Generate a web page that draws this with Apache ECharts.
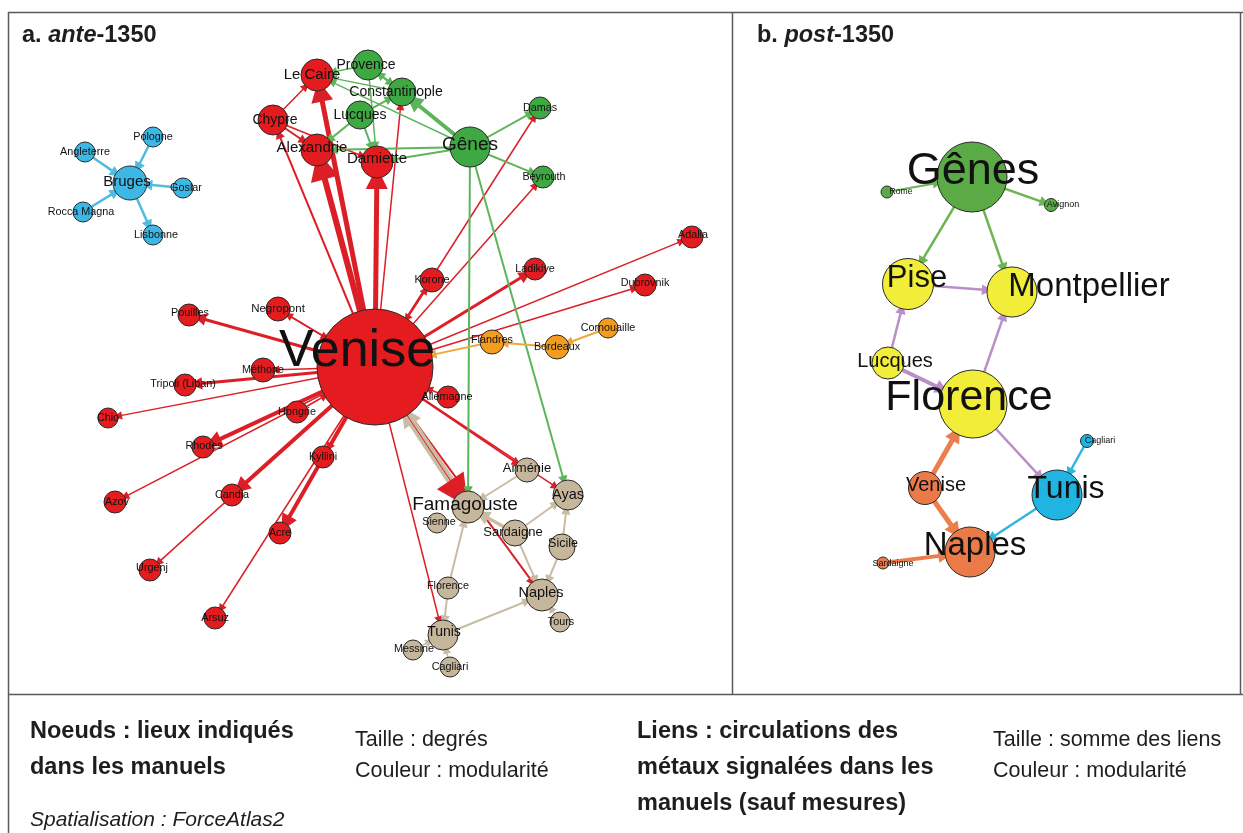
<!DOCTYPE html>
<html><head><meta charset="utf-8">
<script src="https://cdn.jsdelivr.net/npm/echarts@6/dist/echarts.min.js"></script>
<style>html,body{margin:0;padding:0;background:#fff}#c{width:1243px;height:833px}</style>
</head><body><div id="c"></div>
<script>
// ---------- Panel a (ante-1350) ----------
const nodesA = ['Venise','Le Caire','Chypre','Alexandrie','Damiette','Korone','Ladikiye','Adalia','Dubrovnik','Negropont','Pouilles','Méthone','Tripoli (Liban)','Allemagne','Hongrie','Chio','Rhodes','Kyllini','Azov','Candia','Acre','Urgenj','Arsuz',
  'Provence','Constantinople','Lucques','Gênes','Damas','Beyrouth',
  'Bruges','Pologne','Angleterre','Goslar','Rocca Magna','Lisbonne',
  'Flandres','Bordeaux','Cornouaille',
  'Famagouste','Arménie','Ayas','Sienne','Sardaigne','Sicile','Florence','Naples','Tours','Tunis','Messine','Cagliari'];
const xA = [375,317,273,317,377,432,535,692,645,278,189,263,185,448,297,108,203,323,115,232,280,150,215,
  368,402,360,470,540,543,
  130,153,85,183,83,153,
  492,557,608,
  468,527,568,437,515,562,448,542,560,443,413,450];
const yA = [367,75,120,150,162,280,269,237,285,309,315,370,385,397,412,418,447,457,502,495,533,570,618,
  65,92,115,147,108,177,
  183,137,152,188,212,235,
  342,347,328,
  507,470,495,523,533,547,588,595,622,635,650,667];
const degreeA = [116,32,30,32,32,24,22,22,22,24,22,24,22,22,22,20,22,22,22,22,22,22,22,
  30,28,28,40,22,22,
  34,20,20,20,20,20,
  24,24,20,
  32,24,30,20,26,26,22,32,20,30,20,20];
const groupA = ['R','R','R','R','R','R','R','R','R','R','R','R','R','R','R','R','R','R','R','R','R','R','R',
  'G','G','G','G','G','G',
  'B','B','B','B','B','B',
  'O','O','O',
  'T','T','T','T','T','T','T','T','T','T','T','T'];
const linksA = [
  ['Venise','Le Caire',5],['Venise','Alexandrie',6],['Venise','Damiette',5],['Venise','Chypre',2],
  ['Venise','Constantinople',1.5],['Venise','Damas',1.5],['Venise','Beyrouth',1.5],['Venise','Adalia',1.5],
  ['Venise','Dubrovnik',1.5],['Venise','Ladikiye',3],['Venise','Korone',1.5],['Korone','Venise',1.5],
  ['Venise','Negropont',1.5],['Negropont','Venise',1.5],['Venise','Pouilles',3],['Venise','Méthone',1.5],
  ['Venise','Tripoli (Liban)',3],['Venise','Chio',1.5],['Hongrie','Venise',1.5],['Venise','Rhodes',4],
  ['Venise','Azov',1.5],['Venise','Candia',4],['Venise','Urgenj',1.5],['Venise','Kyllini',2],
  ['Venise','Acre',4],['Venise','Arsuz',1.5],['Allemagne','Venise',1.5],['Venise','Arménie',2],
  ['Venise','Ayas',1.5],['Venise','Naples',2],['Venise','Tunis',1.5],
  ['Chypre','Le Caire',1.5],['Chypre','Alexandrie',2],['Chypre','Damiette',1.5],
  ['Famagouste','Venise',8],['Venise','Famagouste',1],
  ['Gênes','Constantinople',4],['Gênes','Provence',2],['Gênes','Le Caire',1.5],['Gênes','Alexandrie',2],
  ['Gênes','Damiette',2],['Gênes','Damas',2],['Gênes','Beyrouth',2],['Gênes','Famagouste',2],['Gênes','Ayas',2],
  ['Provence','Le Caire',1.5],['Provence','Constantinople',2],['Provence','Damiette',1.5],
  ['Lucques','Alexandrie',2],['Lucques','Damiette',2],['Lucques','Constantinople',2],['Constantinople','Le Caire',1.5],
  ['Angleterre','Bruges',2.5],['Pologne','Bruges',2.5],['Goslar','Bruges',2.5],['Rocca Magna','Bruges',2.5],['Bruges','Lisbonne',2.5],
  ['Flandres','Venise',2],['Bordeaux','Flandres',2],['Cornouaille','Bordeaux',2],
  ['Arménie','Famagouste',2],['Sardaigne','Famagouste',3.5],['Sardaigne','Ayas',2],['Sicile','Ayas',2],
  ['Sicile','Naples',2],['Sardaigne','Naples',2],['Florence','Famagouste',2],['Florence','Tunis',2],
  ['Tunis','Naples',2],['Tours','Naples',1.5],['Messine','Tunis',1.5],['Cagliari','Tunis',1.5]
];

// ---------- Panel b (post-1350) ----------
const nodesB = ['Gênes','Rome','Avignon','Pise','Montpellier','Lucques','Florence','Cagliari','Tunis','Venise','Naples','Sardaigne'];
const xB = [972,887,1051,908,1012,888,973,1087,1057,925,970,883];
const yB = [177,192,205,284,292,363,404,441,495,488,552,563];
const degreeB = [70,12,13,51,50,32,68,13,50,33,50,12];
const groupB = ['G','G','G','Y','Y','Y','Y','Bl','Bl','O','O','O'];
const linksB = [
  ['Gênes','Pise',2.5],['Gênes','Montpellier',2.5],['Gênes','Avignon',2.5],['Rome','Gênes',2],
  ['Pise','Montpellier',2.5],['Lucques','Pise',2.5],['Florence','Montpellier',2.5],['Lucques','Florence',4],
  ['Florence','Tunis',2.5],['Venise','Florence',5],['Venise','Naples',5],['Sardaigne','Naples',4],
  ['Cagliari','Tunis',2.5],['Tunis','Naples',2.5]
];

// ---------- styles ----------
const FONT = '"Liberation Sans", Arial, Helvetica, sans-serif';
const colA = {R:'#e41b1f', G:'#3ea843', B:'#3db8e4', O:'#f39c1e', T:'#c6b69b'};
const edgeColA = {R:'#dc1f27', G:'#5cb55b', B:'#52bbe0', O:'#f1a53c', T:'#c9bca4'};
const colB = {G:'#5aab46', Y:'#f1ed38', Bl:'#1fb4e2', O:'#ea7b49'};
const edgeColB = {G:'#6cb553', Y:'#b88fc8', Bl:'#30b7e0', O:'#ec7d4c'};
const fontA = {'Venise':52,'Le Caire':15,'Chypre':14,'Alexandrie':15,'Damiette':15,'Provence':14,'Constantinople':14,
  'Lucques':14,'Gênes':19,'Bruges':15,'Famagouste':19,'Ayas':14.5,'Naples':14.5,'Tunis':14,'Arménie':13,
  'Sardaigne':13,'Sicile':12.5,'Negropont':11.5};
const offA = {'Venise':[-18,-15],'Le Caire':[-5,0],'Chypre':[2,0],'Alexandrie':[-5,-2],'Damiette':[0,-3],
  'Provence':[-2,0],'Constantinople':[-6,0],'Gênes':[0,-2],'Beyrouth':[1,0],'Bruges':[-3,-1],'Goslar':[3,0],
  'Rocca Magna':[-2,0],'Lisbonne':[3,0],'Pouilles':[1,-2],'Tripoli (Liban)':[-2,-1],'Allemagne':[-1,0],
  'Adalia':[1,-2],'Dubrovnik':[0,-2],'Rhodes':[1,-1],'Azov':[2,0],'Urgenj':[2,-2],'Flandres':[0,-2],
  'Famagouste':[-3,-2],'Arménie':[0,-2],'Sienne':[2,-1],'Sardaigne':[-2,-1],'Sicile':[1,-3],'Florence':[0,-2],
  'Naples':[-1,-2],'Tours':[1,0],'Tunis':[1,-3],'Messine':[1,-1]};
const fontB = {'Gênes':45,'Florence':43,'Montpellier':33,'Pise':31,'Tunis':32,'Naples':33,'Lucques':20,'Venise':20,
  'Rome':8.6,'Avignon':9,'Cagliari':9,'Sardaigne':9};
const offB = {'Gênes':[1,-5],'Rome':[14,0],'Avignon':[12,0],'Pise':[9,-6],'Montpellier':[77,-5],'Lucques':[7,-2],
  'Florence':[-4,-6],'Cagliari':[13,0],'Tunis':[9,-6],'Venise':[11,-3],'Naples':[5,-6],'Sardaigne':[10,1]};
const edgeOverride = {'Venise>Famagouste':{arrow:32, width:1}, 'Famagouste>Venise':{arrow:20}};

function buildNodes(names, xs, ys, sizes, groups, cols, fonts, offs, defFont) {
  return names.map((n, i) => ({
    name: n, value: [xs[i], ys[i]], symbolSize: sizes[i],
    itemStyle: {color: cols[groups[i]]},
    label: {fontSize: fonts[n] || defFont, offset: offs[n] || [0, 0]}
  }));
}
function buildLinks(links, names, groups, ecol, arrowFn, ov) {
  return links.map(([s, t, w]) => {
    const g = groups[names.indexOf(s)];
    const o = ov[s + '>' + t] || {};
    return {source: s, target: t, symbolSize: [0, o.arrow || arrowFn(w)],
      lineStyle: {width: o.width || w, color: o.color || ecol[g], opacity: 1}};
  });
}

const graphBase = {
  type: 'graph', coordinateSystem: 'cartesian2d', xAxisIndex: 0, yAxisIndex: 0,
  symbol: 'circle', edgeSymbol: ['none', 'triangle'],
  itemStyle: {borderColor: '#2a2a2a', borderWidth: 1},
  label: {show: true, position: 'inside', color: '#111', fontFamily: FONT},
  lineStyle: {opacity: 1, curveness: 0},
  emphasis: {disabled: true}, silent: true, animation: false
};

function txt(x, y, text, size, weight, style) {
  return {type: 'text', x: x, y: y, silent: true,
    style: {text: text, fontSize: size, fontWeight: weight || 'normal', fontStyle: style || 'normal',
      fontFamily: FONT, fill: '#1e1e1e', align: 'left', verticalAlign: 'middle'}};
}
function ln(x1, y1, x2, y2) {
  return {type: 'line', silent: true, shape: {x1, y1, x2, y2}, style: {stroke: '#5a5a5a', lineWidth: 1.5}};
}
const richTitle = {
  b: {fontSize: 23.5, fontWeight: 'bold', fontFamily: FONT, fill: '#1e1e1e'},
  i: {fontSize: 23.5, fontWeight: 'bold', fontStyle: 'italic', fontFamily: FONT, fill: '#1e1e1e'}
};

const chart = echarts.init(document.getElementById('c'));
chart.setOption({
  animation: false,
  backgroundColor: '#ffffff',
  grid: {left: 0, top: 0, right: 0, bottom: 0, containLabel: false},
  xAxis: {type: 'value', min: 0, max: 1243, show: false},
  yAxis: {type: 'value', min: 0, max: 833, inverse: true, show: false},
  series: [
    Object.assign({}, graphBase, {
      data: buildNodes(nodesA, xA, yA, degreeA, groupA, colA, fontA, offA, 10.8),
      links: buildLinks(linksA, nodesA, groupA, edgeColA, w => 7 + 0.6 * w * w, edgeOverride)
    }),
    Object.assign({}, graphBase, {
      data: buildNodes(nodesB, xB, yB, degreeB, groupB, colB, fontB, offB, 10),
      links: buildLinks(linksB, nodesB, groupB, edgeColB, w => 5 + 2.2 * w, {})
    })
  ],
  graphic: [
    ln(8, 12.5, 1243, 12.5), ln(8.5, 12, 8.5, 833), ln(732.5, 12, 732.5, 694.5),
    ln(8, 694.5, 1243, 694.5), ln(1240.5, 12, 1240.5, 694.5),
    {type: 'text', x: 22, y: 36, silent: true, style: {text: '{b|a. }{i|ante}{b|-1350}', rich: richTitle, verticalAlign: 'middle'}},
    {type: 'text', x: 757, y: 36, silent: true, style: {text: '{b|b. }{i|post}{b|-1350}', rich: richTitle, verticalAlign: 'middle'}},
    txt(30, 732, 'Noeuds : lieux indiqués', 23.5, 'bold'),
    txt(30, 768, 'dans les manuels', 23.5, 'bold'),
    txt(30, 820, 'Spatialisation : ForceAtlas2', 21, 'normal', 'italic'),
    txt(355, 740, 'Taille : degrés', 21.5),
    txt(355, 771, 'Couleur : modularité', 21.5),
    txt(637, 732, 'Liens : circulations des', 23.5, 'bold'),
    txt(637, 768, 'métaux signalées dans les', 23.5, 'bold'),
    txt(637, 804, 'manuels (sauf mesures)', 23.5, 'bold'),
    txt(993, 740, 'Taille : somme des liens', 21.5),
    txt(993, 771, 'Couleur : modularité', 21.5)
  ]
});
</script>
</body></html>
